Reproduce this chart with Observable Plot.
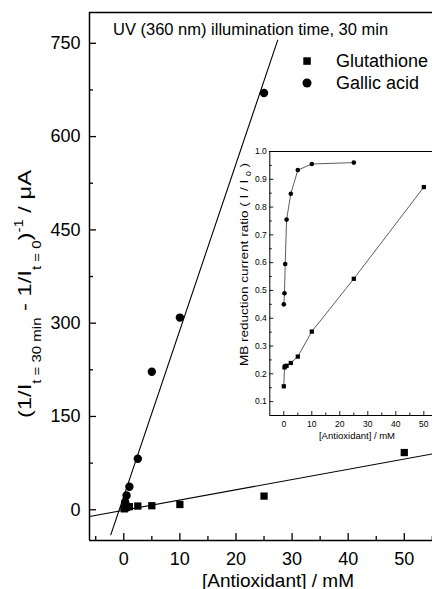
<!DOCTYPE html>
<html><head><meta charset="utf-8">
<script src="https://cdn.jsdelivr.net/npm/d3@7"></script>
<script src="https://cdn.jsdelivr.net/npm/@observablehq/plot@0.6"></script>
<style>
html,body{margin:0;padding:0;background:#fff;overflow:hidden;}
#wrap{position:relative;width:432px;height:589px;overflow:hidden;}
#wrap svg{position:absolute;left:0;top:0;}
</style></head><body><div id="wrap"></div>
<script>
// ---------- data ----------
const seriesNames = ["Glutathione", "Gallic acid"];
const titleText = "UV (360 nm) illumination time, 30 min";
const xTitle = "[Antioxidant] / mM";

// main chart: (1/I_t=30min - 1/I_t=0)^-1 / µA vs concentration
const glutConc = [0.1, 0.25, 0.5, 1, 2.5, 5, 10, 25, 50];
const glutSignal = [1.5, 3, 4, 5, 6, 6.5, 8.5, 22, 92];
const gallicConc = [0.1, 0.25, 0.5, 1, 2.5, 5, 10, 25];
const gallicSignal = [3, 12, 23, 37, 82, 222, 309, 670];

// inset: MB reduction current ratio (I / I0)
const insetGlutConc = [0, 0.25, 0.5, 1, 2.5, 5, 10, 25, 50];
const insetGlutRatio = [0.155, 0.223, 0.227, 0.229, 0.239, 0.262, 0.352, 0.542, 0.872];
const insetGallicConc = [0, 0.25, 0.5, 1, 2.5, 5, 10, 25];
const insetGallicRatio = [0.45, 0.49, 0.595, 0.755, 0.848, 0.933, 0.955, 0.96];

// ticks
const mainXTicks = [0, 10, 20, 30, 40, 50];
const mainXMinor = [-5, 5, 15, 25, 35, 45, 55];
const mainYTicks = [0, 150, 300, 450, 600, 750];
const mainYMinor = [75, 225, 375, 525, 675];
const insetXTicks = [0, 10, 20, 30, 40, 50];
const insetXMinor = [5, 15, 25, 35, 45];
const insetYTicks = [0.1, 0.2, 0.3, 0.4, 0.5, 0.6, 0.7, 0.8, 0.9, 1.0];
const insetYMinor = [0.15, 0.25, 0.35, 0.45, 0.55, 0.65, 0.75, 0.85, 0.95];

// fit line extents (data units)
const glutFitXEnds = [-6.1, 55];
const gallicFitYEnds = [-40, 755];

// ---------- build ----------
const FONT = "'Liberation Sans', Arial, Helvetica, sans-serif";
const W = 432, H = 589;
const wrap = document.getElementById("wrap");

function ols(xs, ys) {
  const mx = d3.mean(xs), my = d3.mean(ys);
  let sxy = 0, sxx = 0;
  xs.forEach((x, i) => { sxy += (x - mx) * (ys[i] - my); sxx += (x - mx) ** 2; });
  const b = sxy / sxx;
  return {a: my - b * mx, b};
}
const glutFit = ols(glutConc, glutSignal);
const gallicFit = ols(gallicConc, gallicSignal);
const fitRows = [
  ...glutFitXEnds.map(x => ({series: seriesNames[0], x, y: glutFit.a + glutFit.b * x})),
  ...gallicFitYEnds.map(y => ({series: seriesNames[1], x: (y - gallicFit.a) / gallicFit.b, y}))
];
const glutRows = glutConc.map((x, i) => ({x, y: glutSignal[i]}));
const gallicRows = gallicConc.map((x, i) => ({x, y: gallicSignal[i]}));

// main plot geometry
const mL = 89, mT = 12, mB = 49, mR = 0;
const iW = W - mL - mR, iH = H - mT - mB;
const xDom = [-6.11, 55.03], yDom = [-49.4, 799.5];

const main = Plot.plot({
  width: W, height: H,
  marginLeft: mL, marginTop: mT, marginBottom: mB, marginRight: mR,
  style: {background: "white", fontFamily: FONT, fontSize: "18px", color: "black", overflow: "visible"},
  x: {domain: xDom, axis: null},
  y: {domain: yDom, axis: null},
  marks: [
    Plot.ruleX([xDom[0]], {stroke: "black", strokeWidth: 1.5}),
    Plot.ruleY([yDom[0], yDom[1]], {stroke: "black", strokeWidth: 1.5}),
    Plot.tickX(mainXTicks, {x: d => d, insetTop: iH - 7, stroke: "black", strokeWidth: 1.3}),
    Plot.tickX(mainXMinor, {x: d => d, insetTop: iH - 4, stroke: "black", strokeWidth: 1.3}),
    Plot.tickY(mainYTicks, {y: d => d, insetRight: iW - 7, stroke: "black", strokeWidth: 1.3}),
    Plot.tickY(mainYMinor, {y: d => d, insetRight: iW - 4, stroke: "black", strokeWidth: 1.3}),
    Plot.axisX({ticks: mainXTicks, tickSize: 0, tickPadding: 12, label: null, tickFormat: d => String(d)}),
    Plot.axisY({ticks: mainYTicks, tickSize: 0, tickPadding: 9, label: null, tickFormat: d => String(d)}),
    Plot.line(fitRows, {x: "x", y: "y", z: "series", stroke: "black", strokeWidth: 1.1}),
    Plot.dot(glutRows, {x: "x", y: "y", symbol: "square", r: 4.1, fill: "black", stroke: "none"}),
    Plot.dot(gallicRows, {x: "x", y: "y", symbol: "circle", r: 4.2, fill: "black", stroke: "none"})
  ]
});
wrap.appendChild(main);

const msvg = d3.select(main);
// title
msvg.append("text").attr("x", 113).attr("y", 34.5).attr("text-anchor", "start")
  .attr("font-family", FONT).attr("font-size", 16.5).attr("fill", "black").text(titleText);
// legend
const lg = msvg.append("g").attr("font-family", FONT).attr("font-size", 18).attr("fill", "black").attr("text-anchor", "start");
lg.append("rect").attr("x", 303.3).attr("y", 57.3).attr("width", 7.5).attr("height", 7.5).attr("fill", "black");
lg.append("text").attr("x", 336).attr("y", 66.7).text(seriesNames[0]);
lg.append("circle").attr("cx", 307).attr("cy", 83).attr("r", 4.5).attr("fill", "black");
lg.append("text").attr("x", 336).attr("y", 89.3).text(seriesNames[1]);
// x title
msvg.append("text").attr("x", 278).attr("y", 586.5).attr("text-anchor", "middle")
  .attr("font-family", FONT).attr("font-size", 19).attr("fill", "black").text(xTitle);
// y title (rotated)
const yt = msvg.append("text")
  .attr("transform", "translate(31,418) rotate(-90)").attr("text-anchor", "start")
  .attr("font-family", FONT).attr("font-size", 19).attr("fill", "black")
  .attr("textLength", 248).attr("lengthAdjust", "spacingAndGlyphs");
yt.append("tspan").text("(1/I");
yt.append("tspan").attr("font-size", 12).attr("dy", 10).text("t = 30 min");
yt.append("tspan").attr("dy", -10).text(" - 1/I");
yt.append("tspan").attr("font-size", 12).attr("dy", 10).text("t = 0");
yt.append("tspan").attr("dy", -10).text(")");
yt.append("tspan").attr("font-size", 12).attr("dy", -8).text("-1");
yt.append("tspan").attr("dy", 8).text(" / \u03bcA");

// ---------- inset ----------
const imL = 269.3, imT = 151, imB = H - 415, imR = 0;
const iiW = W - imL - imR, iiH = H - imT - imB;
const ixDom = [-5, 53.1], iyDom = [0.05, 1.0];
const insetGlutRows = insetGlutConc.map((x, i) => ({x, y: insetGlutRatio[i]}));
const insetGallicRows = insetGallicConc.map((x, i) => ({x, y: insetGallicRatio[i]}));

const inset = Plot.plot({
  width: W, height: H,
  marginLeft: imL, marginTop: imT, marginBottom: imB, marginRight: imR,
  style: {background: "transparent", fontFamily: FONT, fontSize: "8.5px", color: "black", overflow: "visible"},
  x: {domain: ixDom, axis: null},
  y: {domain: iyDom, axis: null},
  marks: [
    Plot.ruleX([ixDom[0]], {stroke: "black", strokeWidth: 1}),
    Plot.ruleY([iyDom[0], iyDom[1]], {stroke: "black", strokeWidth: 1}),
    Plot.tickX(insetXTicks, {x: d => d, insetTop: iiH - 4, stroke: "black", strokeWidth: 0.9}),
    Plot.tickX(insetXMinor, {x: d => d, insetTop: iiH - 2.5, stroke: "black", strokeWidth: 0.9}),
    Plot.tickY(insetYTicks, {y: d => d, insetRight: iiW - 4, stroke: "black", strokeWidth: 0.9}),
    Plot.tickY(insetYMinor, {y: d => d, insetRight: iiW - 2.5, stroke: "black", strokeWidth: 0.9}),
    Plot.axisX({ticks: insetXTicks, tickSize: 0, tickPadding: 5, label: null, tickFormat: d => String(d)}),
    Plot.axisY({ticks: insetYTicks, tickSize: 0, tickPadding: 3, label: null, tickFormat: d3.format(".1f")}),
    Plot.line(insetGlutRows, {x: "x", y: "y", stroke: "#333", strokeWidth: 0.8}),
    Plot.line(insetGallicRows, {x: "x", y: "y", stroke: "#333", strokeWidth: 0.8}),
    Plot.dot(insetGlutRows, {x: "x", y: "y", symbol: "square", r: 2.4, fill: "black", stroke: "none"}),
    Plot.dot(insetGallicRows, {x: "x", y: "y", symbol: "circle", r: 2.3, fill: "black", stroke: "none"})
  ]
});
wrap.appendChild(inset);
const isvg = d3.select(inset);
isvg.append("text").attr("x", 357).attr("y", 439).attr("text-anchor", "middle")
  .attr("font-family", FONT).attr("font-size", 9.5).attr("fill", "black").text(xTitle);
const iyt = isvg.append("text")
  .attr("transform", "translate(248,366) rotate(-90)").attr("text-anchor", "start")
  .attr("font-family", FONT).attr("font-size", 11).attr("fill", "black")
  .attr("textLength", 203).attr("lengthAdjust", "spacingAndGlyphs");
iyt.append("tspan").text("MB reduction current ratio ( I / I ");
iyt.append("tspan").attr("font-size", 7).attr("dy", 2.5).text("0");
iyt.append("tspan").attr("dy", -2.5).text(" )");
</script></body></html>
